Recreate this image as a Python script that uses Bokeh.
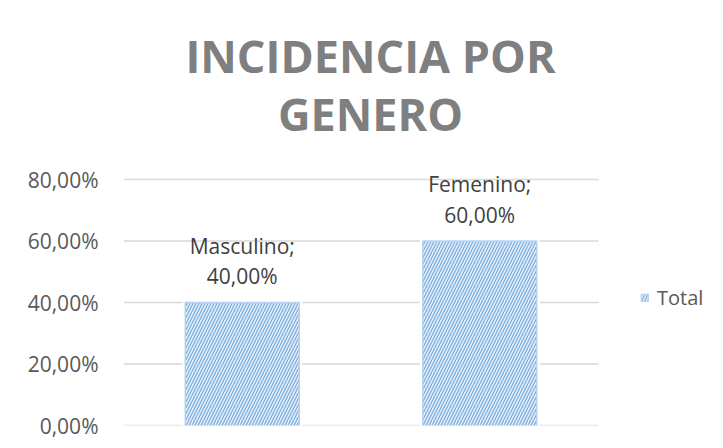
from bokeh.plotting import figure
from bokeh.models import Label, Legend, LegendItem, FixedTicker, Range1d, ColumnDataSource
from bokeh.core.properties import value
from bokeh.embed import file_html
from bokeh.resources import INLINE

# ---- data ----
categories = ["Masculino", "Femenino"]
values = [0.40, 0.60]
value_labels = ["40,00%", "60,00%"]
y_ticks = [0.0, 0.2, 0.4, 0.6, 0.8]
y_tick_labels = ["0,00%", "20,00%", "40,00%", "60,00%", "80,00%"]
title_lines = ["INCIDENCIA POR", "GENERO"]
series_name = "Total"

FONT = "Open Sans"

# ---- layout geometry (pixels) ----
FRAME_W, FRAME_H = 599, 425      # plotting frame (covers title & legend area too)
CAT_PX = 237.5                   # width of one category slot
AXIS_TOP_PX = 246                # pixel height from 0 to the top tick
x_end = FRAME_W / CAT_PX
y_end = y_ticks[-1] * FRAME_H / AXIS_TOP_PX

xs = [i + 0.5 for i in range(len(categories))]
src = ColumnDataSource(dict(
    x=xs,
    cat=categories,
    val=values,
    lab=[f"{c};\n{v}" for c, v in zip(categories, value_labels)],
))

p = figure(
    x_range=Range1d(0, x_end),
    y_range=Range1d(0, y_end),
    frame_width=FRAME_W, frame_height=FRAME_H,
    output_backend="svg", toolbar_location=None,
    min_border_left=123, min_border_right=0,
    min_border_top=0, min_border_bottom=22,
)
p.title.visible = False
p.outline_line_color = None
p.background_fill_color = "white"
p.border_fill_color = "white"

# axes
p.xaxis.visible = False
p.xgrid.visible = False
p.ygrid.visible = False
yax = p.yaxis[0]
yax.ticker = FixedTicker(ticks=y_ticks)
yax.major_label_overrides = {t: l for t, l in zip(y_ticks, y_tick_labels)}
yax.axis_line_color = None
yax.major_tick_line_color = None
yax.minor_tick_line_color = None
yax.major_label_standoff = 19
yax.major_label_text_font = FONT
yax.major_label_text_font_size = "21px"
yax.major_label_text_color = "#595959"

# horizontal gridlines spanning the category area only
p.segment(x0=[0] * len(y_ticks), x1=[len(categories)] * len(y_ticks),
          y0=y_ticks, y1=y_ticks, line_color="#d9d9d9", line_width=1.3)

# white mask around bars (hides gridlines near bar edges)
p.vbar(x="x", top="val", width=0.48, source=src,
       fill_color="white", line_color="white", line_width=6)
# hatched bars
bars = p.vbar(x="x", top="val", width=0.48, source=src,
              fill_color="#e3eef9", line_color="#b8d3ef", line_width=1.5,
              hatch_pattern="/", hatch_color="#5b9bd5", hatch_scale=6,
              hatch_weight=1.2, hatch_alpha=0.8)

# data labels
p.text(x="x", y="val", text="lab", source=src,
       text_align="center", text_baseline="bottom", y_offset=-12,
       text_font=value(FONT), text_font_size="21px", text_color="#404040",
       text_line_height=1.1)

# title (two centred lines)
for line, yy in zip(title_lines, [370, 312]):
    p.add_layout(Label(x=247, y=yy, x_units="screen", y_units="screen",
                       text=line, text_align="center", text_baseline="alphabetic",
                       text_font=FONT, text_font_size="45px", text_font_style="bold",
                       text_color="#7f7f7f"))

legend = Legend(items=[LegendItem(label=series_name, renderers=[bars])],
                location=(517, 114))
legend.border_line_color = None
legend.background_fill_alpha = 0
legend.padding = 0
legend.margin = 0
legend.glyph_width = 9
legend.glyph_height = 9
legend.label_standoff = 8
legend.label_text_font = FONT
legend.label_text_font_size = "20px"
legend.label_text_color = "#595959"
p.add_layout(legend)

open("out.html", "w").write(file_html(p, INLINE))
